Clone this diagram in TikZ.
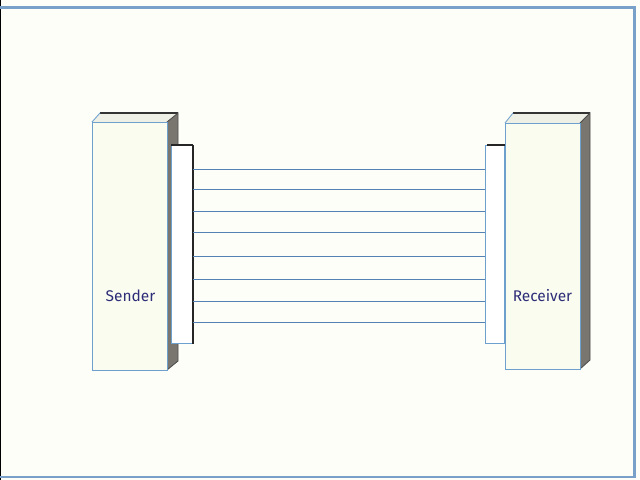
\documentclass[tikz,border=0pt]{standalone}
\usepackage{fontspec}
\setsansfont{Fira Sans}
\usepackage{tikz}
\usetikzlibrary{calc,positioning}

\definecolor{paper}{RGB}{254,254,248}
\definecolor{frameblue}{RGB}{120,160,200}
\definecolor{edgeblue}{RGB}{110,160,205}
\definecolor{wireblue}{RGB}{85,130,180}
\definecolor{boxfill}{RGB}{250,252,240}
\definecolor{sidegray}{RGB}{120,118,110}
\definecolor{labelnavy}{RGB}{45,45,120}

\tikzset{
  frontface/.style={draw=edgeblue, fill=boxfill, line width=0.6pt},
  topface/.style={fill=boxfill!90!gray},
  sideface/.style={fill=sidegray},
  plate/.style={draw=edgeblue, fill=white, line width=0.6pt},
  wire/.style={draw=wireblue, line width=0.7pt},
  boxlabel/.style={font=\sffamily\fontsize{11}{13}\selectfont, text=labelnavy}
}

\begin{document}
\begin{tikzpicture}[x=0.025cm, y=-0.025cm]
\useasboundingbox (0,0) rectangle (640,480);
\fill[paper] (0,0) rectangle (640,480);

% frame around the slide
\draw[black, line width=0.8pt] (0.4,0) -- (0.4,480);
\draw[frameblue, line width=1.6pt] (0,7.5) -- (634.5,7.5) -- (634.5,477) -- (0,477);

% Sender box on the left
\fill[topface] (92,122) -- (100,113) -- (178,113) -- (167,122) -- cycle;
\draw[black!80, line width=0.8pt] (100,113) -- (178,113);
\draw[edgeblue, line width=0.6pt] (92,122) -- (100,113);
\filldraw[sideface, draw=black!70, line width=0.6pt] (167,122) -- (178,113) -- (178,361) -- (167,370) -- cycle;
\node[frontface, inner sep=0pt, anchor=north west,
      minimum width=1.875cm, minimum height=6.2cm] (sender) at (92,122) {};
\node[boxlabel] (senderlabel) at (130.5,296) {Sender};

% Connector plate of the sender
\node[plate, inner sep=0pt, anchor=north west, minimum width=0.525cm, minimum height=4.95cm] (splate) at (171,145) {};
\draw[black!85, line width=1.6pt] (splate.north east) -- (splate.south east);
\draw[black!85, line width=1pt] (splate.north west) -- (splate.north east);

% Receiver box on the right
\fill[topface] (505,123) -- (513,113) -- (590,113) -- (580,123) -- cycle;
\draw[black!80, line width=0.8pt] (513,113) -- (590,113);
\draw[edgeblue, line width=0.6pt] (505,123) -- (513,113);
\filldraw[sideface, draw=black!70, line width=0.6pt] (580,123) -- (590,113) -- (590,360) -- (580,369) -- cycle;
\node[frontface, inner sep=0pt, anchor=north west,
      minimum width=1.875cm, minimum height=6.15cm] (receiver) at (505,123) {};
\node[boxlabel] (receiverlabel) at (542.5,296) {Receiver};

% Connector plate of the receiver
\node[plate, inner sep=0pt, anchor=north east, minimum width=0.475cm, minimum height=4.95cm] (rplate) at (505,145) {};
\draw[black!85, line width=1.6pt] ($(rplate.north west)+(2,0)$) -- (rplate.north east);

% eight parallel wires
\foreach \i/\y in {1/169,2/189,3/211,4/232,5/256,6/279,7/301,8/322} {
  \coordinate (s\i) at (splate.east |- 0,\y);
  \coordinate (r\i) at (rplate.west |- 0,\y);
  \draw[wire] (s\i) -- (r\i);
}

\end{tikzpicture}
\end{document}
